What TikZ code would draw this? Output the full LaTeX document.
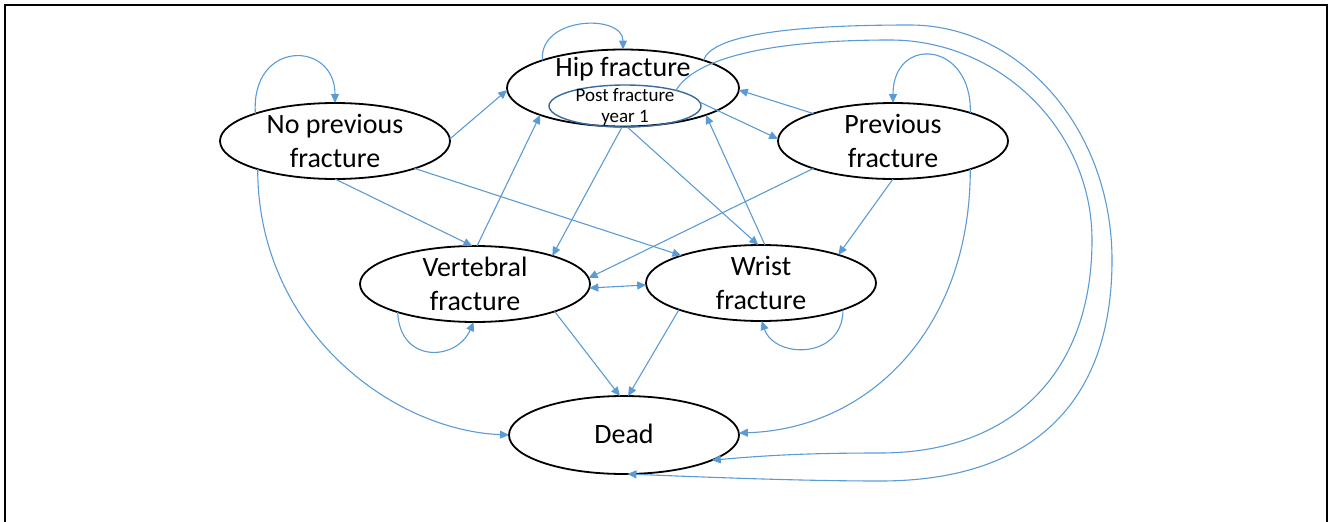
\documentclass[tikz,border=0pt]{standalone}
\usepackage{fontspec}
\setmainfont{Carlito}
\usetikzlibrary{arrows.meta,shapes.geometric}
\definecolor{edgeblue}{HTML}{5B9BD5}
\definecolor{innerblue}{HTML}{3A6A9A}
\begin{document}
\begin{tikzpicture}[x=1pt,y=-1pt,
  state/.style={draw=black, line width=1.8pt, ellipse, minimum width=230pt, minimum height=76pt, inner sep=0pt, outer sep=0pt},
  substate/.style={draw=innerblue, line width=1.4pt, ellipse, minimum width=152pt, minimum height=42pt, inner sep=0pt, outer sep=0pt},
  lbl/.style={align=center, font=\fontsize{28}{34}\selectfont, inner sep=0pt},
  sublbl/.style={align=center, font=\fontsize{19}{21}\selectfont, inner sep=0pt},
  tr/.style={draw=edgeblue, line width=1.1pt, -{Triangle[length=9pt,width=8pt]}},
  trboth/.style={draw=edgeblue, line width=1.1pt, {Triangle[length=9pt,width=8pt]}-{Triangle[length=9pt,width=8pt]}},
  borderline/.style={draw=black, line width=2pt}]
\useasboundingbox (0,0) rectangle (1328,522);
\draw[borderline] (5,523) -- (5,5) -- (1327,5) -- (1327,523);

% states
\node[state, minimum width=232pt, minimum height=77pt] (hip) at (623,88) {};
\node[substate] (pfy) at (625,106) {};
\node[state] (np) at (335,141) {};
\node[state] (pf) at (893,141) {};
\node[state] (vf) at (475,284) {};
\node[state] (wf) at (761,283) {};
\node[state, minimum height=78pt] (dead) at (624,435) {};

% labels
\node[lbl, anchor=base] (hip-t) at (623,76) {Hip fracture};
\node[sublbl] (pfy-t) at (625,107.5) {Post fracture\\year 1};
\node[lbl] (np-t) at (np.center) {No previous\\fracture};
\node[lbl] (pf-t) at (pf.center) {Previous\\fracture};
\node[lbl] (vf-t) at (vf.center) {Vertebral\\fracture};
\node[lbl] (wf-t) at (wf.center) {Wrist\\fracture};
\node[lbl, anchor=base] (dead-t) at (624,443) {Dead};

% self loops
\draw[tr] (np.161) .. controls +(-5,-74) and +(0,-63) .. (np.90);
\draw[tr] (hip.161) .. controls +(-4,-44) and +(0,-36) .. (hip.90);
\draw[tr] (pf.20) .. controls +(2,-72) and +(0,-68) .. (pf.90);
\draw[tr] (vf.200) .. controls +(2,52) and +(-17,39) .. (vf.268);
\draw[tr] (wf.342) .. controls +(0,50) and +(13,38) .. (wf.271);

% transitions
\draw[tr] (np.1) -- (hip.181);
\draw[tr] (np.270) -- (vf.94);
\draw[tr] (np.341) -- (wf.161);
\draw[tr] (np.200) .. controls +(0,160) and +(-118,-5) .. (dead.180);
\draw[tr] (vf.87) -- (hip.198);
\draw[tr] (pfy.262) -- (vf.20);
\draw[tr] (pfy.276) -- (wf.94);
\draw[tr] (wf.84) -- (hip.342);
\draw[tr] (pfy.3) -- (pf.179);
\draw[tr] (pf.161) -- (hip.359);
\draw[tr] (pf.199) -- (vf.3);
\draw[tr] (pf.270) -- (wf.20);
\draw[trboth] (vf.358) -- (wf.181);
\draw[tr] (vf.341) -- (dead.96);
\draw[tr] (wf.198) -- (dead.84);
\draw[tr] (pf.340) .. controls +(0,160) and +(130,-4) .. (dead.1);

% long arcs to Dead
\draw[tr] (hip.19) .. controls (712,35) and (790,25) .. (910,25)
  .. controls (1021,25) and (1112,130) .. (1112,260)
  .. controls (1112,404) and (1031,481) .. (880,481)
  .. controls (800,481) and (700,477) .. (dead.275);
\draw[tr] (pfy.17) .. controls (695,58) and (770,40) .. (890,40)
  .. controls (1000,40) and (1092,130) .. (1092,240)
  .. controls (1092,375) and (1010,453) .. (880,453)
  .. controls (800,453) and (760,456) .. (dead.344);
\end{tikzpicture}
\end{document}
